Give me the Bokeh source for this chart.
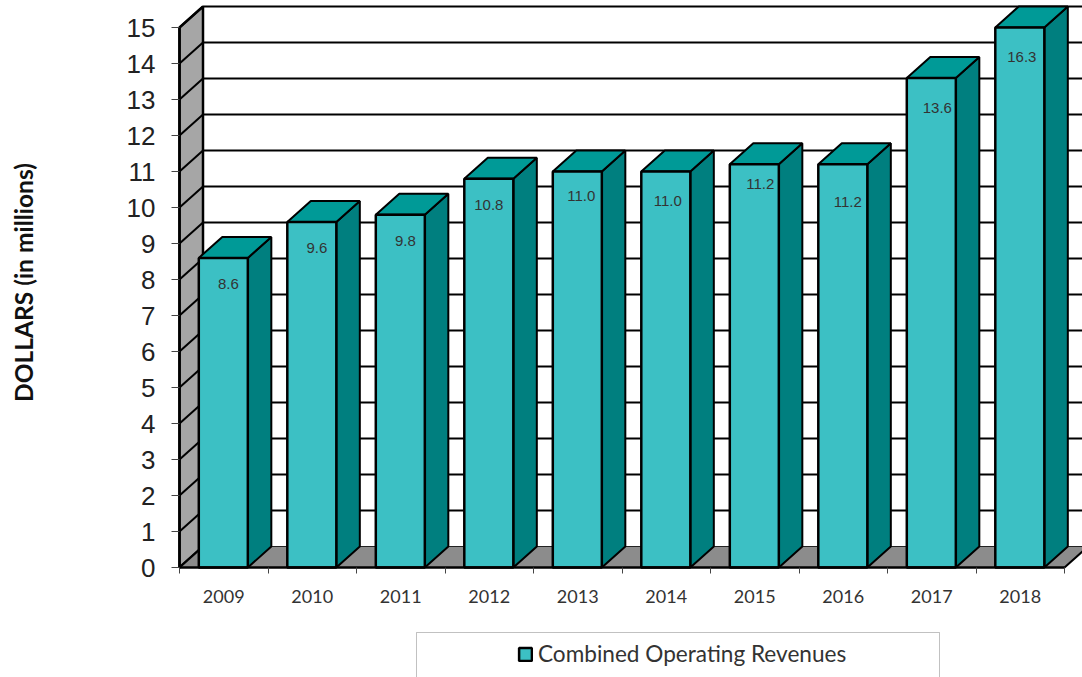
import math
from bokeh.plotting import figure
from bokeh.embed import file_html
from bokeh.resources import INLINE
from bokeh.models import Range1d, FixedTicker, Legend, LegendItem, BoxAnnotation, ColumnDataSource, Label
from bokeh.core.properties import value

years = ["2009", "2010", "2011", "2012", "2013", "2014", "2015", "2016", "2017", "2018"]
revenues = [8.6, 9.6, 9.8, 10.8, 11.0, 11.0, 11.2, 11.2, 13.6, 16.3]
labels = ["8.6", "9.6", "9.8", "10.8", "11.0", "11.0", "11.2", "11.2", "13.6", "16.3"]
y_ticks = list(range(16))
axis_max = 15
series_name = "Combined Operating Revenues"
y_title = "DOLLARS (in millions)"

# layout (pixels / axis units), kept apart from the data
W, H = 1082, 677
LEFT, BOTTOM = 179, 110
UNIT_X, UNIT_Y = 88.5, 36.0
DX, DY = 23.5 / UNIT_X, 21.0 / UNIT_Y
BAR_L, BAR_R = 0.218, 0.772
label_dx = [5, 5, 5, 0, 4, 2, 6, 5, 6, 2]
label_dy = [26, 26, 26, 26, 24, 29, 20, 38, 30, 29]

FRONT, TOP, SIDE = "#3cc0c4", "#009a97", "#007f7f"
WALL, FLOOR = "#a6a6a6", "#8c8c8c"
n = len(years)

p = figure(width=W, height=H, output_backend="svg", toolbar_location=None,
           x_range=Range1d(-LEFT / UNIT_X, (W - LEFT) / UNIT_X),
           y_range=Range1d(-BOTTOM / UNIT_Y, (H - BOTTOM) / UNIT_Y),
           min_border_left=0, min_border_right=0, min_border_top=0, min_border_bottom=0,
           outline_line_color=None)
p.grid.visible = False

# left wall + floor
p.patch([0, DX, DX, 0], [0, DY, axis_max + DY, axis_max], fill_color=WALL, line_color="black", line_width=2.5)
p.patch([0, DX, n + DX, n], [0, DY, DY, 0], fill_color=FLOOR, line_color="#222222", line_width=1)
# back-wall grid + left-wall slants
grid_x, grid_y, slant_x, slant_y = [], [], [], []
for t in y_ticks:
    if t > 0:
        grid_x.append([DX, n + DX])
        grid_y.append([t + DY, t + DY])
    slant_x.append([0, DX])
    slant_y.append([t, t + DY])
p.multi_line(grid_x, grid_y, line_color="black", line_width=2)
p.multi_line(slant_x, slant_y, line_color="black", line_width=2)
p.line([DX, DX], [0 + DY, axis_max + DY], line_color="black", line_width=2)
p.line([n, n + DX], [0, DY], line_color="black", line_width=2)

# bars
front_x, front_y, top_x, top_y, side_x, side_y = [], [], [], [], [], []
for i, v in enumerate(revenues):
    h = min(v, axis_max)
    l, r = i + BAR_L, i + BAR_R
    front_x.append([l, r, r, l]); front_y.append([0, 0, h, h])
    top_x.append([l, r, r + DX, l + DX]); top_y.append([h, h, h + DY, h + DY])
    side_x.append([r, r + DX, r + DX, r]); side_y.append([0, DY, h + DY, h])
p.patches(side_x, side_y, fill_color=SIDE, line_color="black", line_width=2)
p.patches(top_x, top_y, fill_color=TOP, line_color="black", line_width=2)
bars = p.patches(front_x, front_y, fill_color=FRONT, line_color="black", line_width=2.5)

src = ColumnDataSource(dict(
    x=[i + (BAR_L + BAR_R) / 2 for i in range(n)],
    y=[min(v, axis_max) for v in revenues],
    t=labels, dx=label_dx, dy=label_dy))
p.text("x", "y", text="t", x_offset="dx", y_offset="dy", source=src,
       text_font=value("Liberation Sans"), text_font_size="15px", text_color="#333333",
       text_align="center", text_baseline="middle")

# axes
xa = p.xaxis[0]
xa.fixed_location = 0
xa.ticker = FixedTicker(ticks=[i + 0.5 for i in range(n)], minor_ticks=list(range(n + 1)))
xa.major_label_overrides = {i + 0.5: y for i, y in enumerate(years)}
xa.major_tick_out = 0
xa.major_tick_in = 0
xa.minor_tick_out = 6
xa.minor_tick_in = 0
xa.minor_tick_line_color = "#444444"
xa.bounds = (0, n)
xa.axis_line_color = "black"
xa.axis_line_width = 2.5
xa.major_label_standoff = 16
xa.major_label_text_font = "Lato"
xa.major_label_text_font_size = "18px"
xa.major_label_text_color = "#333333"

ya = p.yaxis[0]
ya.fixed_location = 0
ya.ticker = FixedTicker(ticks=y_ticks)
ya.bounds = (0, axis_max)
ya.major_tick_out = 8
ya.major_tick_in = 0
ya.minor_tick_out = 0
ya.minor_tick_in = 0
ya.major_tick_line_color = "#444444"
ya.axis_line_color = "black"
ya.axis_line_width = 2.5
ya.major_label_standoff = 16
ya.major_label_text_font = "Liberation Sans"
ya.major_label_text_font_size = "26px"
ya.major_label_text_color = "#222222"

# y title: a label, because an axis title is always centred on the whole frame
p.add_layout(Label(x=23, y=H - 282, x_units="screen", y_units="screen", text=y_title,
                   angle=math.pi / 2, text_align="center", text_baseline="middle",
                   text_font="Lato", text_font_style="bold", text_font_size="24.5px",
                   text_color="#111111"))

# legend
box = BoxAnnotation(left=416, right=939, top=H - 632, bottom=-20,
                    left_units="screen", right_units="screen", top_units="screen", bottom_units="screen",
                    fill_color=None, line_color="#333333", line_width=1)
p.add_layout(box)
legend = Legend(items=[LegendItem(label=series_name, renderers=[bars])],
                location=(517, 10), orientation="vertical",
                border_line_color=None, background_fill_alpha=0,
                padding=0, margin=0, glyph_width=16, glyph_height=16, label_standoff=5,
                label_text_font="Lato", label_text_font_size="22.6px", label_text_color="#333333")
p.add_layout(legend)

open("out.html", "w").write(file_html(p, INLINE))
